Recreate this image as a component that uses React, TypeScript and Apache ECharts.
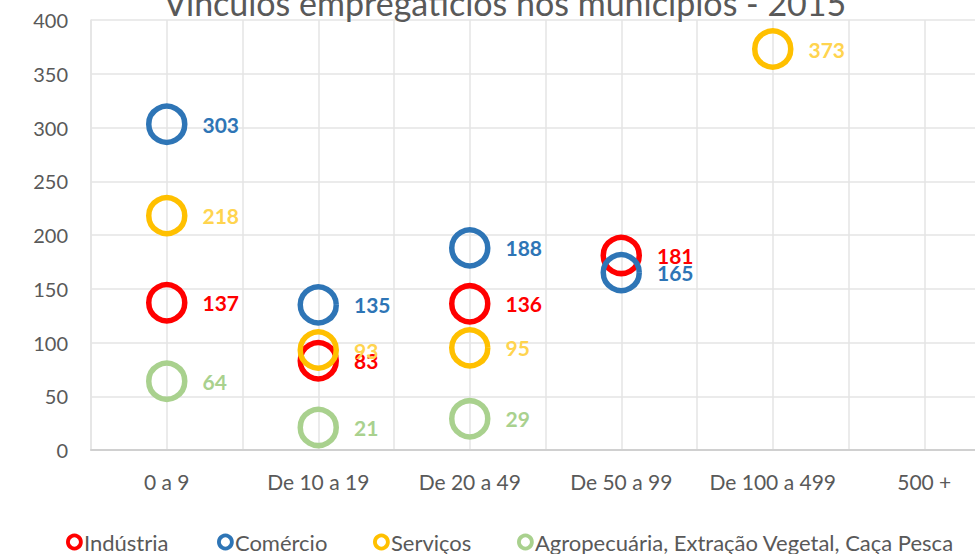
import React, { useEffect, useRef } from "react";
import * as echarts from "echarts";

const categories = ["0 a 9", "De 10 a 19", "De 20 a 49", "De 50 a 99", "De 100 a 499", "500 +"];
const seriesNames = ["Indústria", "Comércio", "Serviços", "Agropecuária, Extração Vegetal, Caça Pesca"];
// values per category index (null = no point)
const industria = [137, 83, 136, 181, null, null];
const comercio = [303, 135, 188, 165, null, null];
const servicos = [218, 93, 95, null, 373, null];
const agro = [64, 21, 29, null, null, null];
const yTicks = [0, 50, 100, 150, 200, 250, 300, 350, 400];

const colors = ["#ff0000", "#2e75b6", "#ffc000", "#a9d18e"];
const labelColors = ["#ff0000", "#2e75b6", "#ffd44f", "#a9d18e"];
const FONT = "Lato";

export default function App() {
  const ref = useRef<HTMLDivElement>(null);
  useEffect(() => {
    const chart = echarts.init(ref.current!, null, { renderer: "svg" });
    const all = [industria, comercio, servicos, agro];
    const series = all.map((vals, i) => ({
      name: seriesNames[i],
      type: "scatter",
      symbol: "circle",
      symbolSize: 36,
      z: 2 + i,
      itemStyle: { color: "rgba(255,255,255,0)", borderColor: colors[i], borderWidth: 5.5, opacity: 1 },
      label: {
        show: true,
        position: "right",
        distance: 15,
        color: labelColors[i],
        fontFamily: FONT,
        fontWeight: "bold",
        fontSize: 21,
        formatter: (p: any) => String(p.value[1]),
      },
      data: vals
        .map((v, k) => (v === null ? null : [k + 1, v]))
        .filter((d) => d !== null),
    }));
    const legendLefts = [66, 217, 373, 517];
    chart.setOption({
      animation: false,
      title: {
        text: "Vínculos empregatícios nos municípios - 2015",
        left: 500,
        textAlign: "center",
        top: -20,
        textStyle: { fontFamily: FONT, fontWeight: "normal", fontSize: 34, color: "#595959" },
      },
      legend: seriesNames.map((n, i) => ({
        data: [
          {
            name: n,
            icon: "circle",
            itemStyle: { color: "#ffffff", borderColor: colors[i], borderWidth: 3.8 },
          },
        ],
        left: legendLefts[i],
        top: 531,
        itemWidth: 13,
        itemHeight: 13,
        itemGap: 0,
        padding: 0,
        textStyle: { fontFamily: FONT, fontSize: 22, color: "#595959", padding: [0, 0, 0, -2] },
      })),
      grid: {
        left: 91,
        top: 20,
        right: -25,
        bottom: 104,
        containLabel: false,
        outerBoundsMode: "none",
      },
      xAxis: {
        type: "value",
        min: 0.5,
        max: 6.5,
        interval: 0.5,
        axisLine: { show: true, lineStyle: { color: "#d0d0d0", width: 2 } },
        axisTick: { show: false },
        splitLine: { show: true, lineStyle: { color: "#e4e4e4", width: 1.5 } },
        axisLabel: {
          margin: 21,
          fontFamily: FONT,
          fontSize: 21,
          color: "#595959",
          showMinLabel: true,
          showMaxLabel: true,
          formatter: (v: number) => (Math.abs(v - Math.round(v)) < 1e-6 ? categories[Math.round(v) - 1] ?? "" : ""),
        },
      },
      yAxis: {
        type: "value",
        min: yTicks[0],
        max: yTicks[yTicks.length - 1],
        interval: 50,
        axisLine: { show: true, lineStyle: { color: "#e4e4e4", width: 1.5 } },
        axisTick: { show: false },
        splitLine: { show: true, lineStyle: { color: "#e4e4e4", width: 1.5 } },
        axisLabel: { margin: 23, fontFamily: FONT, fontSize: 20, color: "#595959" },
      },
      series,
    });
    return () => chart.dispose();
  }, []);
  return <div ref={ref} style={{ width: 975, height: 554, position: "absolute", left: 0, top: 0, background: "#fff" }} />;
}
